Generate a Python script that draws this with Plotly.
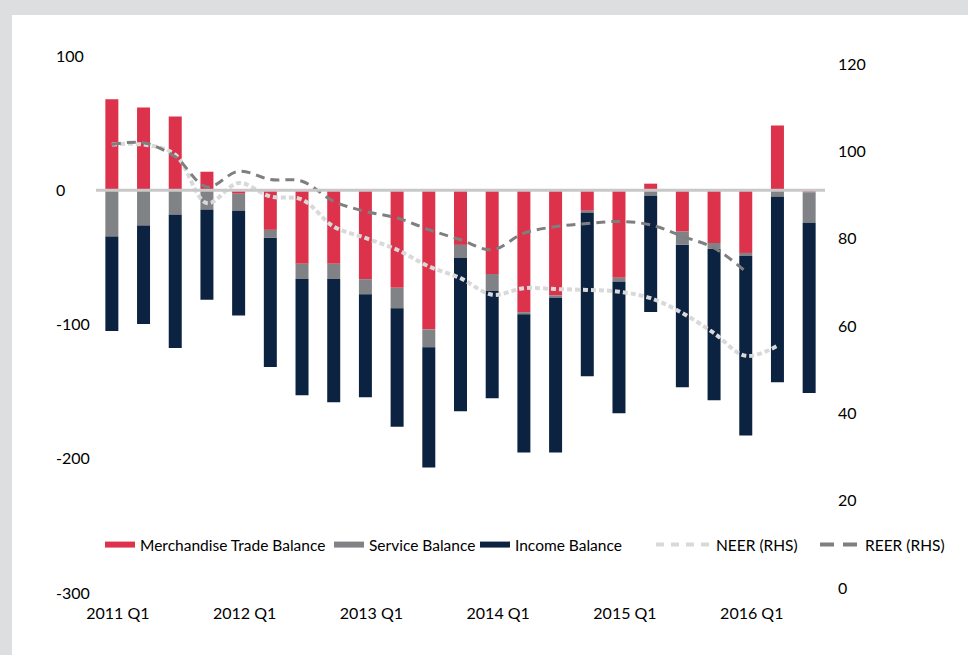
import plotly.graph_objects as go

quarters = [f"{y} Q{q}" for y in range(2011, 2017) for q in range(1, 5)][:23]

merchandise = [67.7, 61.7, 54.9, 13.8, -2.6, -29.5, -54.7, -54.7, -66.2, -72.7, -103.6,
               -40.7, -62.4, -90.8, -78.4, -15.3, -65.2, 4.9, -30.8, -39.3, -46.7, 48.2, -1.5]
service = [-34.5, -26.3, -18.3, -14.6, -12.7, -6.0, -11.5, -11.5, -11.2, -15.2, -13.4,
           -9.8, -12.7, -1.5, -1.7, -1.5, -3.0, -4.1, -9.9, -4.4, -2.3, -4.9, -22.7]
income = [-70.3, -73.3, -99.2, -66.9, -78.0, -96.2, -86.5, -91.7, -76.8, -88.2, -89.5,
          -114.1, -79.8, -103.0, -115.2, -121.7, -97.9, -86.5, -106.0, -112.7, -133.6, -138.1, -126.8]
neer = [101.6, 101.6, 99.3, 88.2, 92.8, 89.7, 89.0, 82.8, 80.2, 77.5, 73.7,
        71.0, 67.2, 68.7, 68.5, 68.3, 67.9, 66.4, 63.0, 58.4, 53.2, 55.5, None]
reer = [101.6, 102.0, 98.8, 91.9, 95.5, 93.6, 93.2, 88.6, 86.3, 84.8, 82.1,
        79.8, 77.5, 81.3, 82.8, 83.5, 84.0, 83.2, 80.6, 77.9, 72.5, None, None]

tick_quarters = [q for q in quarters if q.endswith("Q1")]
left_ticks = [-300, -200, -100, 0, 100]
left_labels = ["-300", "-200", "-100", "0", "100"]
right_ticks = [0, 20, 40, 60, 80, 100, 120]
left_range = [-300, 100]
right_range = [-1.15, 121.9]

RED = "#DC324B"
GREY = "#808285"
NAVY = "#0B2241"
NEER_C = "#D9D9D9"
REER_C = "#7F7F7F"
FONT = "Lato"
BLACK = "#000000"

W, H = 968, 655
ml, mr, mt, mb = 40, 143, 36, 42
plot_left, plot_top, plot_bottom = 96, 56, 593
pw, ph = W - ml - mr, H - mt - mb


def px_to_paper_x(px):
    return (px - ml) / pw


def px_to_paper_y(py):
    return (H - mb - py) / ph


y_domain = [px_to_paper_y(plot_bottom), px_to_paper_y(plot_top)]
# the label axis spans the full paper height with the same value-to-pixel scale
units_per_px = (left_range[1] - left_range[0]) / (plot_bottom - plot_top)
label_range = [left_range[0] - (H - mb - plot_bottom) * units_per_px,
               left_range[1] + (plot_top - mt) * units_per_px]

fig = go.Figure()
for name, vals, col in [("Merchandise Trade Balance", merchandise, RED),
                        ("Service Balance", service, GREY),
                        ("Income Balance", income, NAVY)]:
    fig.add_trace(go.Bar(x=quarters, y=vals, name=name,
                         marker=dict(color=col, line=dict(width=0)),
                         showlegend=False, yaxis="y"))

fig.add_trace(go.Scatter(x=quarters, y=neer, name="NEER (RHS)", mode="lines", yaxis="y2",
                         line=dict(color=NEER_C, width=4, dash="5px,3px", shape="spline"),
                         showlegend=False))
fig.add_trace(go.Scatter(x=quarters, y=reer, name="REER (RHS)", mode="lines", yaxis="y2",
                         line=dict(color=REER_C, width=3, dash="9px,6px", shape="spline"),
                         showlegend=False))
# invisible helper trace so the left-aligned label axis renders
fig.add_trace(go.Scatter(x=quarters[:1], y=[0], mode="lines", yaxis="y3",
                         line=dict(width=0), showlegend=False, hoverinfo="skip"))

# legend entries (one legend box per entry, positioned like the reference)
legend_specs = [
    ("Merchandise Trade Balance", RED, 6, "solid", "legend", 100, 30),
    ("Service Balance", GREY, 6, "solid", "legend2", 329, 30),
    ("Income Balance", NAVY, 6, "solid", "legend3", 475, 30),
    ("NEER (RHS)", NEER_C, 4, "8px,7px", "legend4", 651, 55),
    ("REER (RHS)", REER_C, 4, "14px,9px", "legend5", 815, 40),
]
legend_layout = {}
for name, col, w, d, lg, xpx, iw in legend_specs:
    fig.add_trace(go.Scatter(x=[None], y=[None], mode="lines", name=name, legend=lg,
                             line=dict(color=col, width=w, dash=d)))
    legend_layout[lg] = dict(orientation="h", x=px_to_paper_x(xpx), y=px_to_paper_y(545),
                             xanchor="left", yanchor="middle", bgcolor="rgba(0,0,0,0)",
                             font=dict(size=15.5, family=FONT, color=BLACK),
                             itemwidth=iw)

fig.update_layout(
    width=W, height=H,
    margin=dict(l=ml, r=mr, t=mt, b=mb, autoexpand=False),
    barmode="relative",
    bargap=0.59,
    paper_bgcolor="#DDDEE0",
    plot_bgcolor="rgba(0,0,0,0)",
    font=dict(family=FONT, size=16, color=BLACK),
    xaxis=dict(type="category", categoryorder="array", categoryarray=quarters,
               range=[-0.5, len(quarters) - 0.5],
               domain=[px_to_paper_x(plot_left), 1],
               tickvals=tick_quarters, ticktext=tick_quarters,
               showgrid=False, showline=False, zeroline=False, ticks="",
               tickfont=dict(size=16, color=BLACK), ticklabelshift=6, ticklabelstandoff=9),
    yaxis=dict(range=left_range, domain=y_domain, showticklabels=False,
               showgrid=False, zeroline=False, showline=False, ticks=""),
    yaxis3=dict(range=label_range, domain=[0, 1], anchor="free", side="left",
                position=px_to_paper_x(52), ticklabelposition="inside",
                tickvals=left_ticks, ticktext=left_labels,
                showgrid=False, zeroline=False, showline=False, ticks="",
                tickfont=dict(size=16, color=BLACK)),
    yaxis2=dict(range=right_range, overlaying="y", side="right",
                tickvals=right_ticks,
                showgrid=False, zeroline=False, showline=False, ticks="",
                tickfont=dict(size=16, color=BLACK), ticklabelstandoff=12),
    shapes=[
        dict(type="rect", xref="paper", yref="paper", layer="below",
             x0=px_to_paper_x(12), x1=px_to_paper_x(W + 5),
             y0=px_to_paper_y(15), y1=px_to_paper_y(H + 5),
             fillcolor="#FFFFFF", line=dict(width=0)),
        dict(type="line", xref="x domain", yref="y", layer="above",
             x0=0, x1=1, y0=0, y1=0, line=dict(color="#C8C8C8", width=3)),
    ],
    **legend_layout,
)

fig.write_html("out.html", config={"displayModeBar": False},
               post_script="document.body.style.margin='0';")
